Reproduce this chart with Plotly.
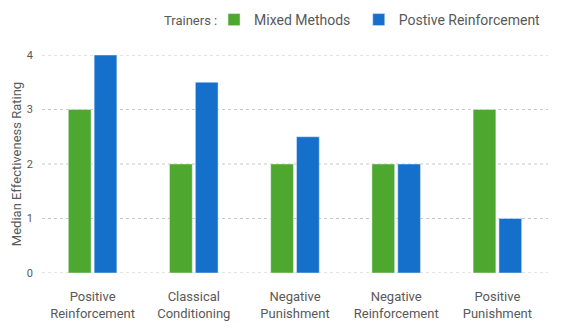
import plotly.graph_objects as go

categories = ["Positive<br>Reinforcement", "Classical<br>Conditioning", "Negative<br>Punishment",
              "Negative<br>Reinforcement", "Positive<br>Punishment"]
mixed_methods = [3, 2, 2, 2, 3]
positive_reinforcement = [4, 3.5, 2.5, 2, 1]
y_ticks = [0, 1, 2, 3, 4]

GREEN = "#4ea72e"
BLUE = "#1570cc"
TEXT = "#595959"
GRID = "#c8c8c8"
FONT = "Roboto"

fig = go.Figure()
fig.add_trace(go.Bar(name="Mixed Methods", x=categories, y=mixed_methods, marker_color=GREEN,
                     legend="legend", showlegend=True))
fig.add_trace(go.Bar(name="Postive Reinforcement", x=categories, y=positive_reinforcement, marker_color=BLUE,
                     legend="legend2", showlegend=True))

legend_common = dict(orientation="h", xanchor="left", y=1 - 20 / 333, yref="container", yanchor="middle",
                     font=dict(size=14, color=TEXT), itemwidth=30, bgcolor="rgba(0,0,0,0)")

for t in y_ticks:
    fig.add_shape(type="line", xref="paper", x0=0, x1=1, yref="y", y0=t, y1=t,
                  line=dict(color=GRID, width=1, dash="dot"), layer="below")

fig.update_layout(
    width=567, height=333,
    margin=dict(l=42, r=19, t=55, b=60),
    plot_bgcolor="white", paper_bgcolor="white",
    showlegend=True,
    barmode="group", bargap=0.49, bargroupgap=0.12,
    font=dict(family=FONT, color=TEXT, size=13),
    legend=dict(x=0.340, **legend_common),
    legend2=dict(x=0.626, **legend_common),
    annotations=[dict(text="Trainers :", x=0.237, xref="paper", xanchor="left",
                      y=1.16, yref="paper", yanchor="middle", showarrow=False,
                      font=dict(size=13, color=TEXT))],
    xaxis=dict(showline=False, ticks="", tickfont=dict(size=13, color=TEXT), ticklabelstandoff=14),
    yaxis=dict(range=[0, 4], tickvals=y_ticks, showgrid=False,
               zeroline=False, showline=False, ticks="", tickfont=dict(size=11, color=TEXT),
               ticklabelstandoff=8,
               title=dict(text="Median Effectiveness Rating", font=dict(size=13, color=TEXT), standoff=2)),
)
fig.write_html("out.html")
